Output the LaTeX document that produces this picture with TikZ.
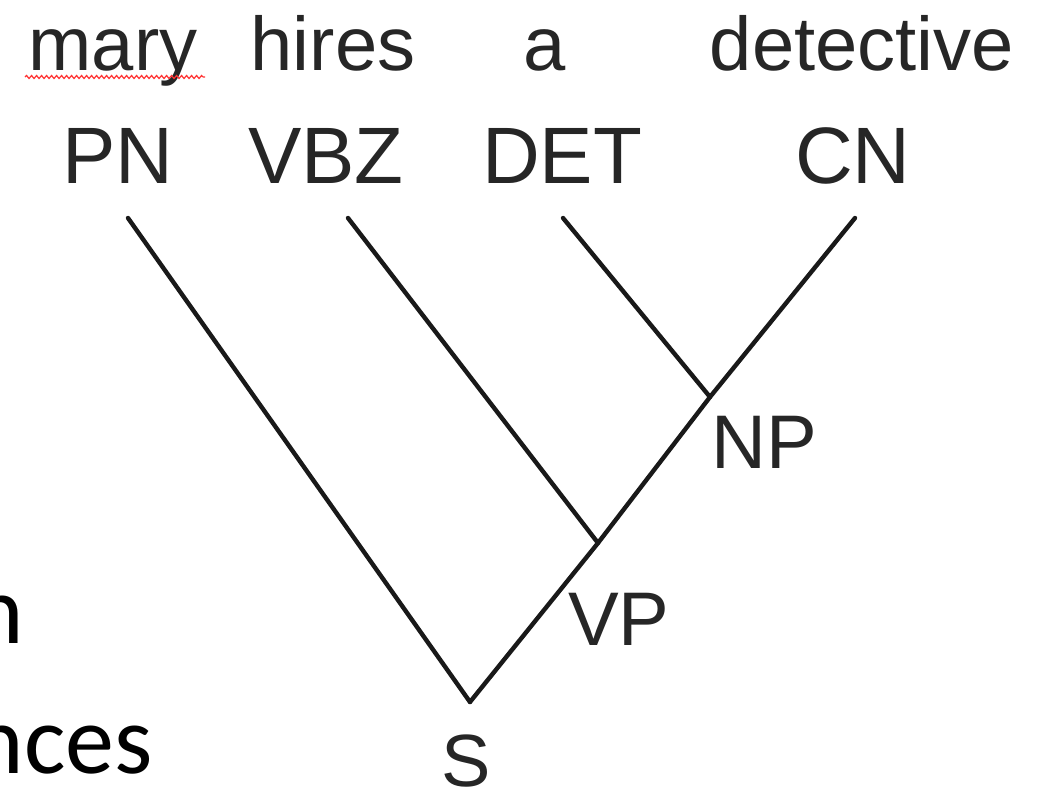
\documentclass[tikz,border=0pt]{standalone}
\usepackage{fontspec}
\setmainfont{Liberation Sans}
\newfontfamily\slidefont{Carlito}
\usetikzlibrary{decorations.pathmorphing}
\tikzset{
  word/.style={inner sep=0pt, anchor=base, font=\fontsize{76}{90}\selectfont, text=black!85},
  tag/.style={inner sep=0pt, anchor=base, font=\fontsize{80}{95}\selectfont, text=black!85},
  phrase/.style={inner sep=0pt, font=\fontsize{76}{95}\selectfont, text=black!85},
  branch/.style={line width=4.4pt, black!90, line cap=round},
  slide/.style={inner sep=0pt, anchor=base east, font=\slidefont\fontsize{98}{110}\selectfont},
  squiggle/.style={red!80, line width=1.2pt, decorate, decoration={snake, amplitude=1.5pt, segment length=5pt}}
}
\begin{document}
\begin{tikzpicture}[x=1pt,y=-1pt]
\clip (0,0) rectangle (1045,795);
\fill[white] (0,0) rectangle (1045,795);
% words
\node[word] (mary) at (113,70) {mary};
\node[word] (hires) at (333,70) {hires};
\node[word] (a) at (545,70) {a};
\node[word] (detective) at (862,70) {detective};
\coordinate (sqa) at (25,77);
\coordinate (sqb) at (205,77);
\draw[squiggle] (sqa) -- (sqb);
% tags
\node[tag] (PN) at (118,183) {PN};
\node[tag] (VBZ) at (326,183) {VBZ};
\node[tag] (DET) at (562,183) {DET};
\node[tag] (CN) at (853,183) {CN};
% junctions
\coordinate (s) at (470,702);
\coordinate (vp) at (598,543);
\coordinate (np) at (710,397);
\coordinate (pnt) at (128,218);
\coordinate (vbzt) at (348,218);
\coordinate (dett) at (563,218);
\coordinate (cnt) at (855,218);
\draw[branch] (pnt) -- (s);
\draw[branch] (vbzt) -- (vp);
\draw[branch] (dett) -- (np);
\draw[branch] (cnt) -- (np) -- (vp) -- (s);
% labels
\node[phrase, anchor=base west] (NPl) at (711,468) {NP};
\node[phrase, anchor=base west] (VPl) at (568,645) {VP};
\node[phrase, anchor=base, font=\fontsize{74}{90}\selectfont] (Sl) at (466,786) {S};
% cut-off slide text
\node[slide] (t1) at (24,643) {n};
\node[slide] (t2) at (153,773) {nces};
\end{tikzpicture}
\end{document}
